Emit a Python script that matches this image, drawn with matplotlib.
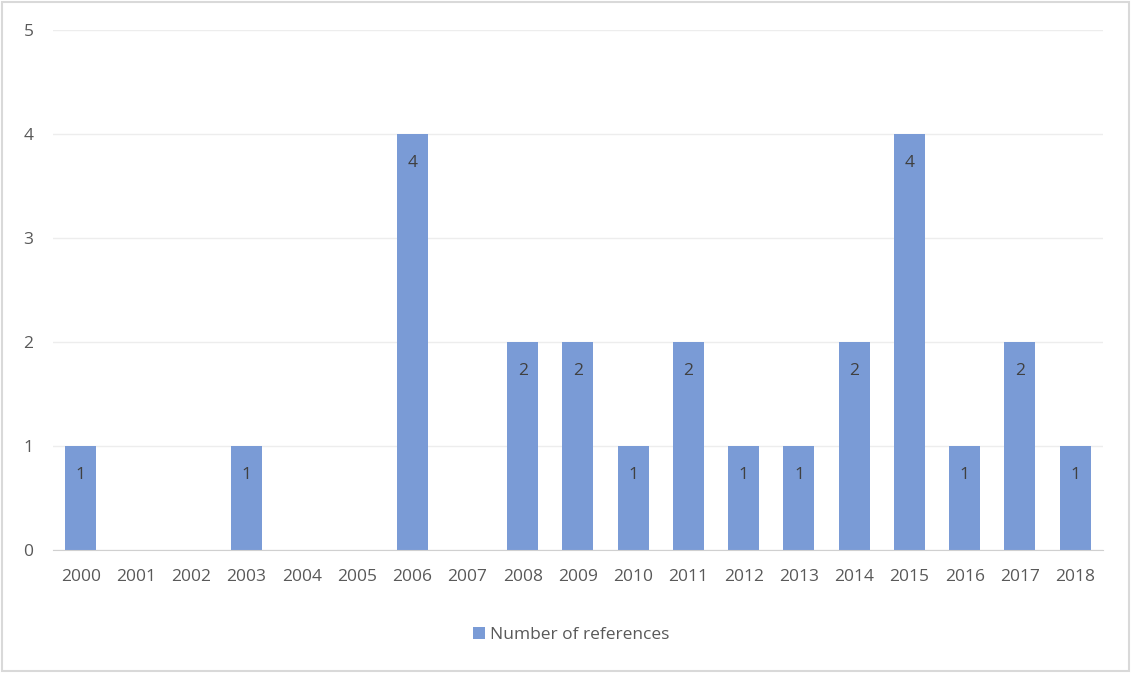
import numpy as np
import matplotlib.pyplot as plt
from matplotlib.patches import Rectangle

# Publications per year
years = [str(y) for y in range(2000, 2019)]
counts = [1, 0, 0, 1, 0, 0, 4, 0, 2, 2, 1, 2, 1, 1, 2, 4, 1, 2, 1]
series_name = 'Number of references'

bar_color = '#7A9BD6'
text_color = '#595959'
plt.rcParams['font.family'] = ['Open Sans', 'DejaVu Sans']

fig = plt.figure(figsize=(11.31, 6.73), dpi=100)
ax = fig.add_axes([0.0469, 0.1828, 0.9282, 0.7726])

x = np.arange(len(years))
bars = ax.bar(x, counts, width=0.56, color=bar_color, label=series_name, zorder=3)

# value labels inside the top of each non-zero bar
for xi, v in zip(x, counts):
    if v > 0:
        ax.text(xi, v - 0.28, str(v), ha='center', va='center',
                fontsize=12.5, color='#404040', zorder=4)

ax.set_xlim(-0.5, len(years) - 0.5)
ax.set_ylim(0, 5)
ax.set_yticks(range(0, 6))
ax.set_xticks(x)
ax.set_xticklabels(years)
ax.tick_params(axis='both', length=0, labelsize=12.5, labelcolor=text_color)
ax.tick_params(axis='x', pad=14)
ax.tick_params(axis='y', pad=14)

ax.grid(axis='y', color='#EDEDED', linewidth=1, zorder=0)
for side in ['top', 'right', 'left']:
    ax.spines[side].set_visible(False)
ax.spines['bottom'].set_color('#D0D0D0')
ax.spines['bottom'].set_zorder(5)

leg = fig.legend(loc='center', bbox_to_anchor=(0.505, 0.056), frameon=False,
                 fontsize=12.5, handlelength=0.7, handleheight=0.7,
                 handletextpad=0.3)
for t in leg.get_texts():
    t.set_color(text_color)

# light frame round the whole chart
fig.patches.append(Rectangle((0.002, 0.003), 0.996, 0.994, transform=fig.transFigure,
                             fill=False, edgecolor='#D9D9D9', linewidth=1.5))

fig.savefig('out.png', dpi=100)
